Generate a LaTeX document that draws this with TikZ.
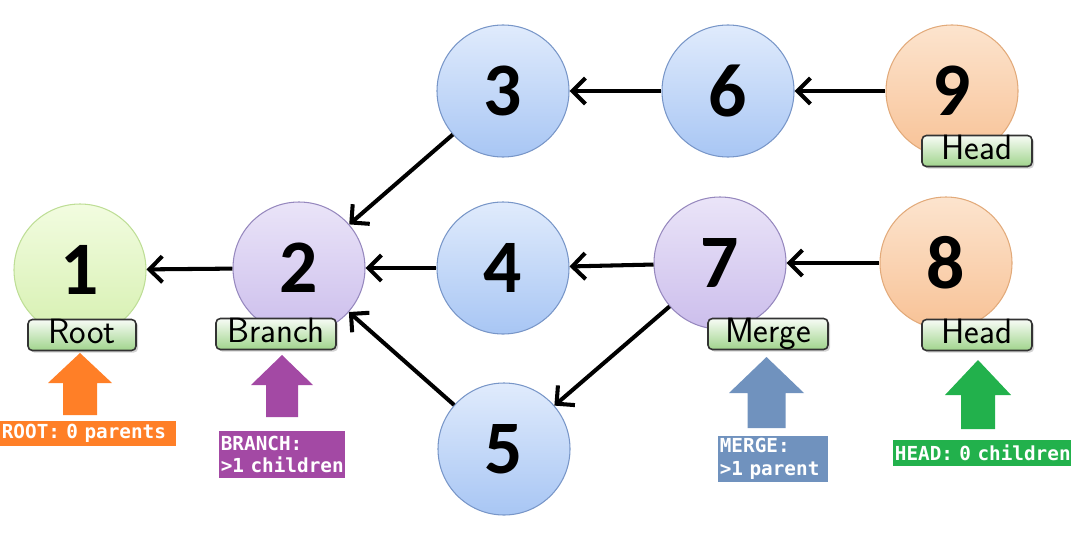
\documentclass[tikz,border=0pt]{standalone}
\usepackage{fontspec}
\setmainfont{Carlito}
\newfontfamily\calloutfont[HyphenChar=None]{DejaVu Sans Mono}
\usepackage{tikz}
\usetikzlibrary{arrows.meta}
\usetikzlibrary{shadows}
\definecolor{colorroot}{RGB}{255,127,39}
\definecolor{colorbranch}{RGB}{163,73,164}
\definecolor{colormerge}{RGB}{112,146,190}
\definecolor{colorhead}{RGB}{34,177,76}
\definecolor{taggreen}{RGB}{160,212,140}
\tikzstyle{commit}=[circle,minimum size=2.64cm,inner sep=0pt,line width=0.6pt,font=\fontsize{43}{43}\selectfont\bfseries]
\tikzstyle{rootcommit}=[commit,draw={rgb,255:red,190;green,222;blue,150},top color={rgb,255:red,242;green,252;blue,224},bottom color={rgb,255:red,214;green,240;blue,176}]
\tikzstyle{bluecommit}=[commit,draw={rgb,255:red,120;green,150;blue,200},top color={rgb,255:red,224;green,235;blue,252},bottom color={rgb,255:red,168;green,198;blue,244}]
\tikzstyle{purplecommit}=[commit,draw={rgb,255:red,150;green,136;blue,190},top color={rgb,255:red,234;green,228;blue,248},bottom color={rgb,255:red,204;green,190;blue,236}]
\tikzstyle{orangecommit}=[commit,draw={rgb,255:red,226;green,170;blue,122},top color={rgb,255:red,252;green,228;blue,206},bottom color={rgb,255:red,248;green,194;blue,150}]
\tikzstyle{tag}=[draw=black!80,line width=0.9pt,rounded corners=2.5pt,top color=white!92!taggreen,bottom color=taggreen,drop shadow={opacity=0.35,shadow xshift=1.2pt,shadow yshift=-1.2pt},minimum height=0.62cm,inner sep=0pt,text height=13pt,text depth=3pt,font=\sffamily\fontsize{20}{20}\selectfont]
\tikzstyle{callout}=[anchor=west,text=white,inner xsep=0.03cm,inner ysep=0pt,align=left,font=\calloutfont\bfseries\fontsize{11}{13}\selectfont]

\begin{document}
\begin{tikzpicture}[>={Straight Barb[length=2.6mm,width=5.2mm]},
    edge/.style={->,line width=2.3pt}]
  \useasboundingbox (0,0) rectangle (21.42,10.64);

  \node[rootcommit] (c1) at (1.60,5.24) {1};
  \node[purplecommit] (c2) at (5.98,5.28) {2};
  \node[bluecommit] (c3) at (10.06,8.82) {3};
  \node[bluecommit] (c4) at (10.06,5.28) {4};
  \node[bluecommit] (c5) at (10.08,1.66) {5};
  \node[bluecommit] (c6) at (14.56,8.82) {6};
  \node[purplecommit] (c7) at (14.40,5.38) {7};
  \node[orangecommit] (c8) at (18.92,5.38) {8};
  \node[orangecommit] (c9) at (19.04,8.82) {9};

  \foreach \i/\j in {2/1,3/2,4/2,5/2,6/3,9/6,7/4,8/7,7/5}
    \draw[edge] (c\i) -- (c\j);

  \node[tag,minimum width=2.16cm] (t1) at (1.64,3.94) {Root};
  \node[tag,minimum width=2.4cm] (t2) at (5.52,3.96) {Branch};
  \node[tag,minimum width=2.4cm] (t7) at (15.36,3.96) {Merge};
  \node[tag,minimum width=2.2cm] (t8) at (19.54,3.94) {Head};
  \node[tag,minimum width=2.2cm] (t9) at (19.54,7.62) {Head};

  % big arrows pointing at the tags
  \foreach \pc/\px/\ptip/\pbase/\pend/\phead/\pshaft in
      {colorroot/1.60/3.58/2.98/2.34/0.64/0.34,
       colorbranch/5.64/3.54/2.94/2.30/0.62/0.32,
       colormerge/15.33/3.50/2.78/2.08/0.75/0.38,
       colorhead/19.56/3.44/2.74/2.06/0.66/0.34}{
    \fill[\pc] ({\px-\pshaft},\pend) -- ({\px-\pshaft},\pbase) -- ({\px-\phead},\pbase)
      -- (\px,\ptip) -- ({\px+\phead},\pbase) -- ({\px+\pshaft},\pbase)
      -- ({\px+\pshaft},\pend) -- cycle;
  }

  \node[callout,fill=colorroot,text width=3.46cm,minimum height=0.5cm] (lroot) at (0,1.97) {ROOT: 0 parents};
  \node[callout,fill=colorbranch,text width=2.46cm,minimum height=0.94cm] (lbranch) at (4.38,1.55) {BRANCH:\\>1 children};
  \node[callout,fill=colormerge,text width=2.14cm,minimum height=0.92cm] (lmerge) at (14.36,1.46) {MERGE:\\>1 parent};
  \node[callout,fill=colorhead,text width=3.70cm,minimum height=0.52cm] (lhead) at (17.86,1.58) {HEAD: 0 children};
\end{tikzpicture}
\end{document}
